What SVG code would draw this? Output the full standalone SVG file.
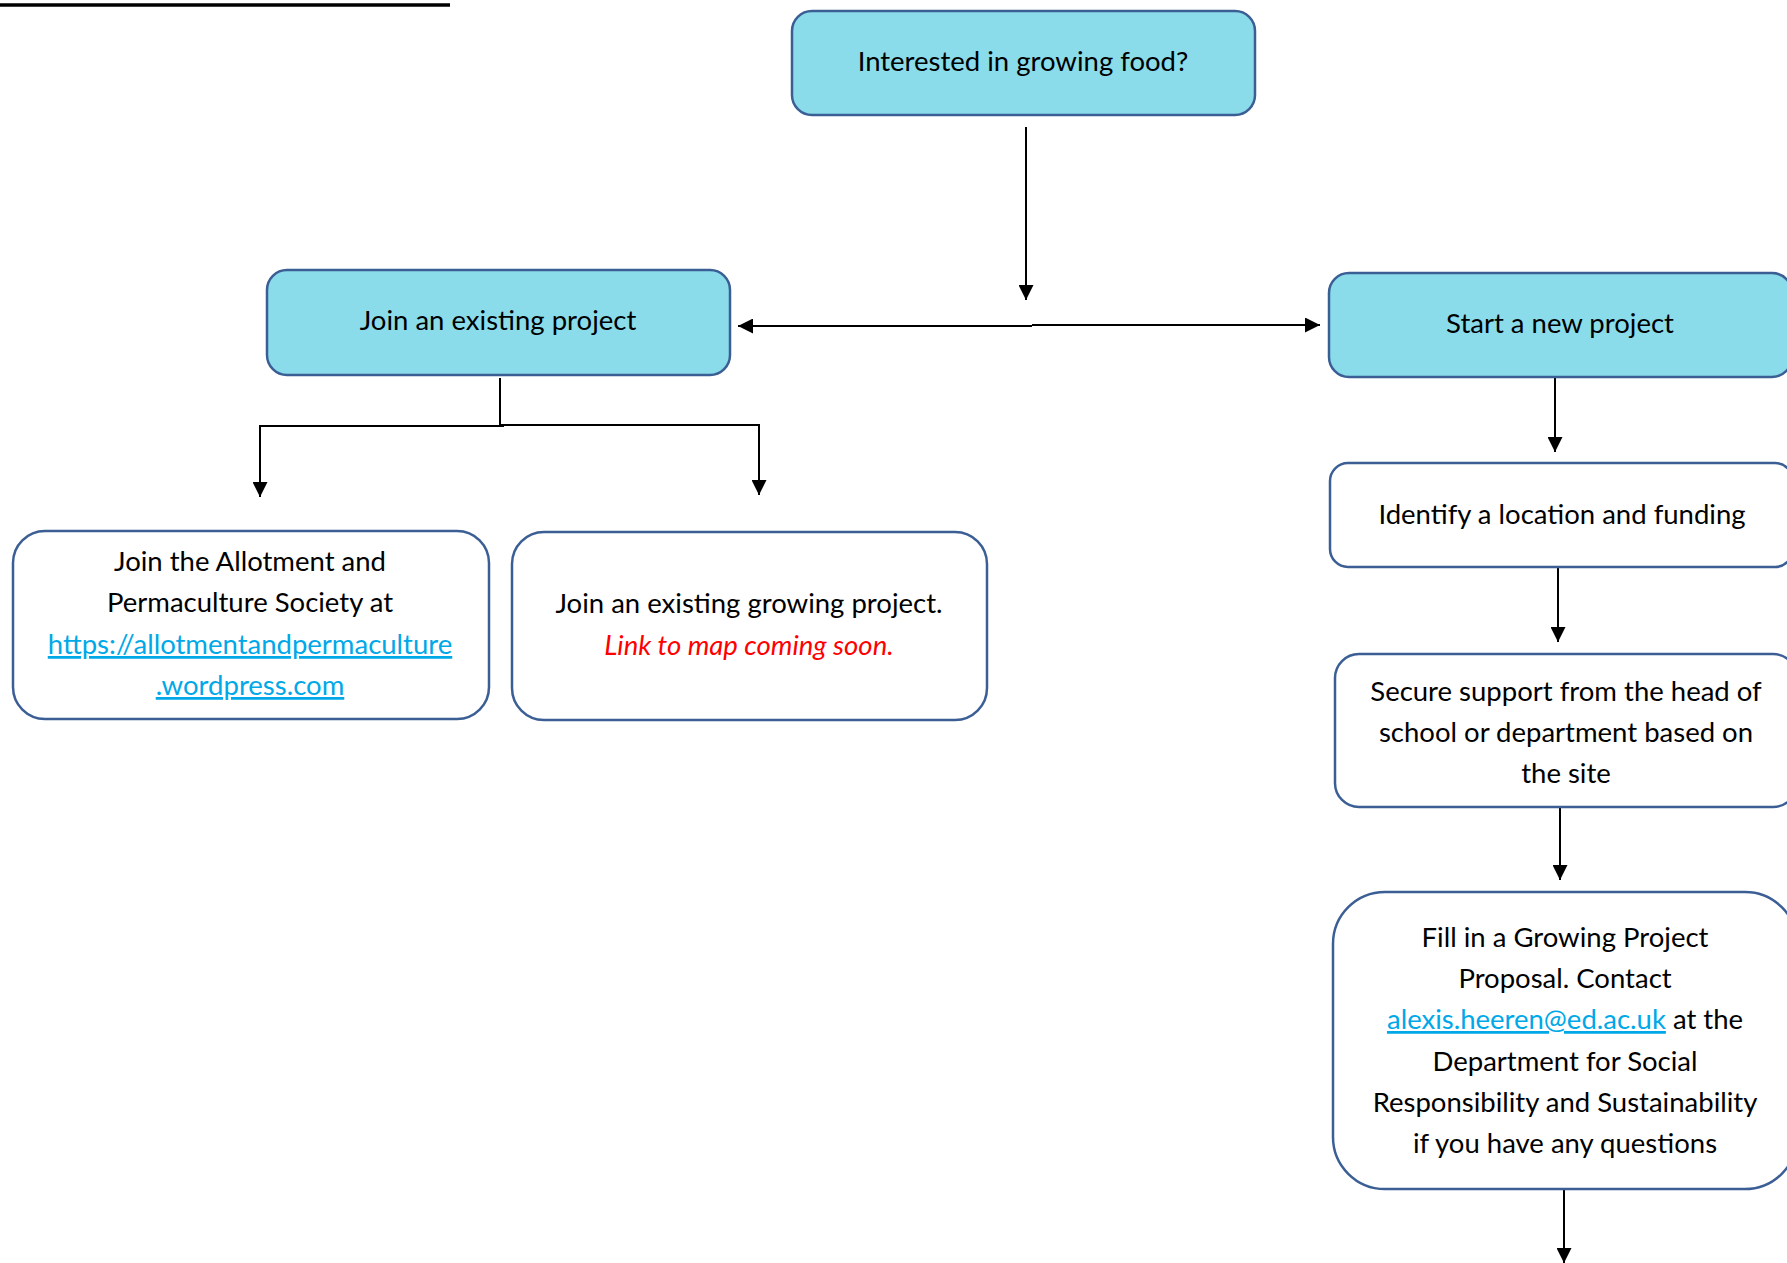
<svg xmlns="http://www.w3.org/2000/svg" width="1787" height="1263" viewBox="0 0 1787 1263">
<style>
.box{stroke:#3B5F95;stroke-width:2.5}
.teal{fill:#8ADCEA}
.white{fill:#FFFFFF}
text{font-family:Lato,"Liberation Sans",sans-serif;font-size:27.5px;fill:#000;text-anchor:middle}
.link{fill:#00A8E8;text-decoration:underline}
.red{fill:#FF0000;font-style:italic}
.con{stroke:#000;stroke-width:2;fill:none}
</style>
<defs>
<marker id="ah" viewBox="0 0 10 10" refX="10" refY="5" markerWidth="7.5" markerHeight="7.5" orient="auto" markerUnits="strokeWidth">
<path d="M0,0 L10,5 L0,10 Z" fill="#000"/>
</marker>
</defs>
<rect width="1787" height="1263" fill="#FFFFFF"/>
<line x1="0" y1="5" x2="450" y2="5" stroke="#000" stroke-width="3.5"/>
<g id="connectors">
<line class="con" x1="1026" y1="127" x2="1026" y2="300" marker-end="url(#ah)"/>
<line class="con" x1="1032" y1="326" x2="738" y2="326" marker-end="url(#ah)"/>
<line class="con" x1="1032" y1="325" x2="1320" y2="325" marker-end="url(#ah)"/>
<line class="con" x1="500" y1="378" x2="500" y2="426"/>
<polyline class="con" points="504,426 260,426 260,497" marker-end="url(#ah)"/>
<polyline class="con" points="500,425 759,425 759,495" marker-end="url(#ah)"/>
<line class="con" x1="1555" y1="377" x2="1555" y2="452" marker-end="url(#ah)"/>
<line class="con" x1="1558" y1="567" x2="1558" y2="642" marker-end="url(#ah)"/>
<line class="con" x1="1560" y1="807" x2="1560" y2="880" marker-end="url(#ah)"/>
<line class="con" x1="1564" y1="1189" x2="1564" y2="1263" marker-end="url(#ah)"/>
</g>
<g id="node-interested">
<rect class="box teal" x="792" y="11" width="463" height="104" rx="20"/>
<text x="1023" y="71">Interested in growing food?</text>
</g>
<g id="node-join">
<rect class="box teal" x="267" y="270" width="463" height="105" rx="20"/>
<text x="498" y="330">Join an existing project</text>
</g>
<g id="node-start">
<rect class="box teal" x="1329" y="273" width="463" height="104" rx="20"/>
<text x="1560" y="333">Start a new project</text>
</g>
<g id="node-allotment">
<rect class="box white" x="13" y="531" width="476" height="188" rx="32"/>
<text x="250" y="571">Join the Allotment and</text>
<text x="250" y="612">Permaculture Society at</text>
<text x="250" y="654" class="link">https://allotmentandpermaculture</text>
<text x="250" y="695" class="link">.wordpress.com</text>
</g>
<g id="node-existing">
<rect class="box white" x="512" y="532" width="475" height="188" rx="32"/>
<text x="749" y="613">Join an existing growing project.</text>
<text x="749" y="655" class="red">Link to map coming soon.</text>
</g>
<g id="node-identify">
<rect class="box white" x="1330" y="463" width="463" height="104" rx="18"/>
<text x="1562" y="524">Identify a location and funding</text>
</g>
<g id="node-secure">
<rect class="box white" x="1335" y="654" width="462" height="153" rx="24"/>
<text x="1566" y="701">Secure support from the head of</text>
<text x="1566" y="742">school or department based on</text>
<text x="1566" y="783">the site</text>
</g>
<g id="node-fill">
<rect class="box white" x="1333" y="892" width="464" height="297" rx="52"/>
<text x="1565" y="947">Fill in a Growing Project</text>
<text x="1565" y="988">Proposal. Contact</text>
<text x="1565" y="1029"><tspan class="link">alexis.heeren@ed.ac.uk</tspan> at the</text>
<text x="1565" y="1071">Department for Social</text>
<text x="1565" y="1112">Responsibility and Sustainability</text>
<text x="1565" y="1153">if you have any questions</text>
</g>
</svg>
